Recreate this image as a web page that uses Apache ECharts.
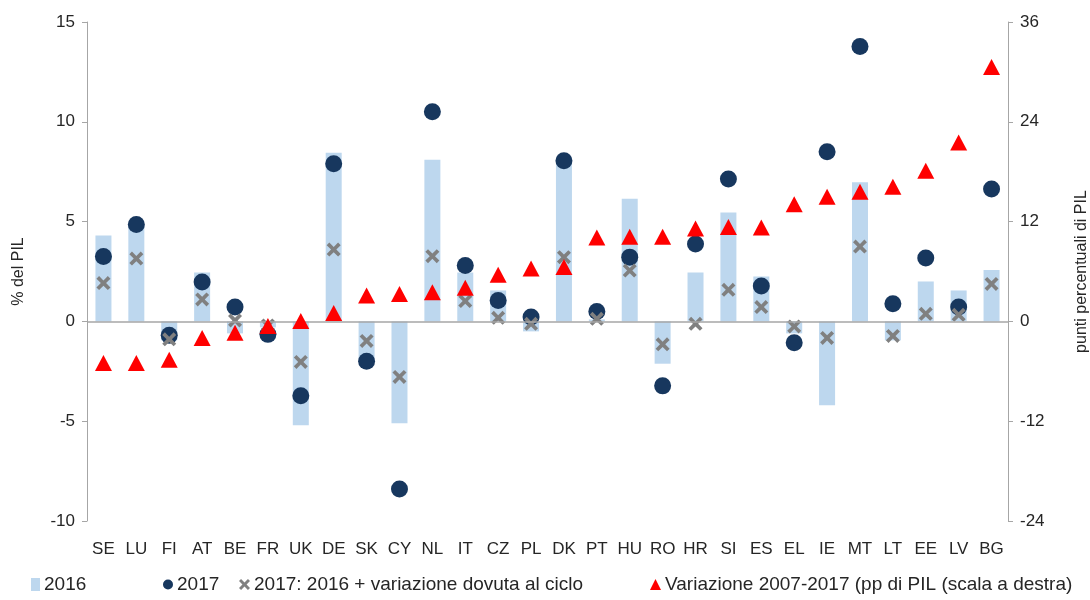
<!DOCTYPE html>
<html>
<head>
<meta charset="utf-8">
<script src="https://cdn.jsdelivr.net/npm/echarts@6/dist/echarts.min.js"></script>
<style>html,body{margin:0;padding:0;background:#fff;}#c{width:1090px;height:600px;}</style>
</head>
<body>
<div id="c"></div>
<script>
const categories = ['SE','LU','FI','AT','BE','FR','UK','DE','SK','CY','NL','IT','CZ','PL','DK','PT','HU','RO','HR','SI','ES','EL','IE','MT','LT','EE','LV','BG'];
const bal2016 = [4.3,4.8,-0.95,2.45,-0.6,-0.3,-5.2,8.45,-1.9,-5.1,8.1,2.45,1.55,-0.5,8.2,0.1,6.15,-2.12,2.45,5.45,2.25,-0.6,-4.2,6.97,-0.95,2.0,1.55,2.58];
const bal2017 = [3.25,4.85,-0.7,1.97,0.72,-0.65,-3.73,7.9,-2.0,-8.4,10.5,2.8,1.05,0.22,8.05,0.5,3.22,-3.23,3.88,7.13,1.77,-1.07,8.5,13.77,0.88,3.18,0.72,6.63];
const bal2017cyc = [1.92,3.15,-0.9,1.1,0.05,-0.2,-2.03,3.6,-0.98,-2.78,3.27,1.02,0.18,-0.12,3.22,0.13,2.55,-1.15,-0.12,1.58,0.72,-0.25,-0.83,3.75,-0.73,0.38,0.33,1.88];
const var0717 = [-5.0,-5.0,-4.6,-2.0,-1.36,-0.55,0.04,1.0,3.12,3.28,3.49,4.05,5.6,6.37,6.53,10.1,10.18,10.18,11.18,11.34,11.3,14.1,15.0,15.6,16.2,18.1,21.5,30.6];
const leftTicks = {min:-10, max:15, interval:5};
const rightTicks = {min:-24, max:36, interval:12};
const names = ['2016','2017','2017: 2016 + variazione dovuta al ciclo','Variazione 2007-2017 (pp di PIL (scala a destra)'];

const FONT = 'Liberation Sans';
const TXT = '#262626';
const AX = '#A6A6A6';
const xPath = 'path://M0,3 L3,0 L8,5 L13,0 L16,3 L11,8 L16,13 L13,16 L8,11 L3,16 L0,13 L5,8 Z';

const chart = echarts.init(document.getElementById('c'));
const legendBase = {bottom: 1, itemGap: 0, textStyle:{fontFamily:FONT, fontSize:19, color:TXT, padding:[0,0,0,-1]}, itemWidth:12, itemHeight:12};
chart.setOption({
  animation:false,
  textStyle:{fontFamily:FONT},
  grid:{left:87, right:82, top:22, bottom:79, containLabel:false, outerBoundsMode:'none'},
  legend:[
    Object.assign({}, legendBase, {left:26, data:[{name:names[0], icon:'rect', itemStyle:{opacity:1}}], itemWidth:9, itemHeight:13}),
    Object.assign({}, legendBase, {left:158, data:[{name:names[1], icon:'circle'}], itemWidth:10, itemHeight:12}),
    Object.assign({}, legendBase, {left:234, data:[{name:names[2], icon:xPath}], itemWidth:11, itemHeight:11}),
    Object.assign({}, legendBase, {left:645, data:[{name:names[3], icon:'triangle'}], itemWidth:11, itemHeight:11})
  ],
  xAxis:{
    type:'category', data:categories,
    axisLine:{show:false}, axisTick:{show:false},
    axisLabel:{color:TXT, fontSize:17, fontFamily:FONT, margin:20, interval:0}
  },
  yAxis:[
    {type:'value', min:leftTicks.min, max:leftTicks.max, interval:leftTicks.interval,
     name:'% del PIL', nameLocation:'middle', nameGap:60, nameTextStyle:{color:TXT, fontSize:16, fontFamily:FONT},
     axisLine:{show:true, lineStyle:{color:AX}}, axisTick:{show:true, length:5, lineStyle:{color:AX}},
     splitLine:{show:false}, axisLabel:{color:TXT, fontSize:17, fontFamily:FONT, margin:12}},
    {type:'value', min:rightTicks.min, max:rightTicks.max, interval:rightTicks.interval, position:'right',
     name:'punti percentuali di PIL', nameLocation:'middle', nameGap:66, nameTextStyle:{color:TXT, fontSize:16, fontFamily:FONT},
     axisLine:{show:true, lineStyle:{color:AX}}, axisTick:{show:true, length:5, lineStyle:{color:AX}},
     splitLine:{show:false}, axisLabel:{color:TXT, fontSize:17, fontFamily:FONT, margin:12}}
  ],
  series:[
    {name:names[0], type:'bar', data:bal2016, barWidth:16, itemStyle:{color:'#BDD7EE'}, z:1,
     markLine:{silent:true, symbol:['none','none'], label:{show:false}, lineStyle:{color:AX, width:1.5, type:'solid'}, data:[{yAxis:0}]}},
    {name:names[1], type:'scatter', data:bal2017, symbol:'circle', symbolSize:17, itemStyle:{color:'#17375E', opacity:1}, z:3},
    {name:names[2], type:'scatter', data:bal2017cyc, symbol:xPath, symbolSize:14, itemStyle:{color:'#808080', opacity:1}, z:4},
    {name:names[3], type:'scatter', yAxisIndex:1, data:var0717, symbol:'triangle', symbolSize:[17,16], itemStyle:{color:'#FF0000', opacity:1}, z:5}
  ]
});
</script>
</body>
</html>
